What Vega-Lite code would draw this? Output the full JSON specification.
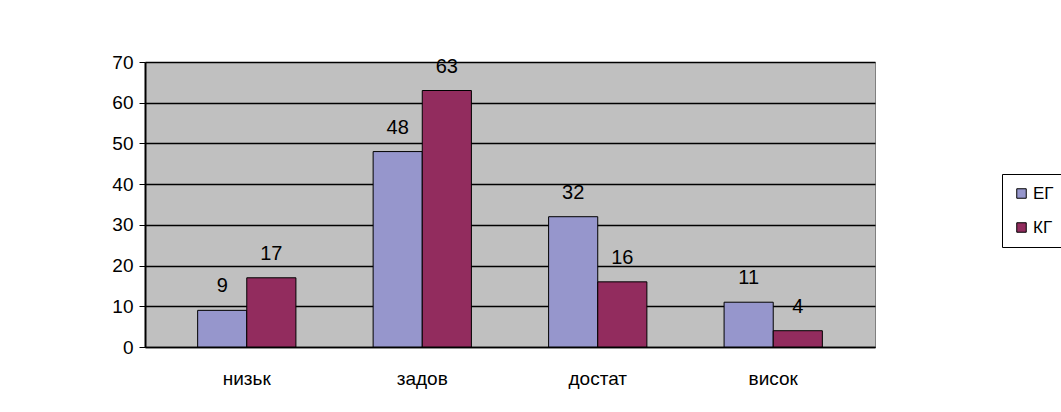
{
  "$schema": "https://vega.github.io/schema/vega-lite/v6.json",
  "autosize": {"type": "none"},
  "width": 730,
  "height": 285,
  "padding": {"left": 145, "top": 62, "right": 186, "bottom": 65},
  "background": "white",
  "data": {"values": [
    {"cat": "низьк", "group": "ЕГ", "value": 9},
    {"cat": "низьк", "group": "КГ", "value": 17},
    {"cat": "задов", "group": "ЕГ", "value": 48},
    {"cat": "задов", "group": "КГ", "value": 63},
    {"cat": "достат", "group": "ЕГ", "value": 32},
    {"cat": "достат", "group": "КГ", "value": 16},
    {"cat": "висок", "group": "ЕГ", "value": 11},
    {"cat": "висок", "group": "КГ", "value": 4}
  ]},
  "encoding": {
    "x": {"field": "cat", "type": "nominal", "sort": ["низьк", "задов", "достат", "висок"],
      "scale": {"paddingInner": 0.44, "paddingOuter": 0.3},
      "axis": {"title": null, "labelAngle": 0, "labelFont": "Liberation Sans", "labelFontSize": 19, "labelColor": "black", "labelPadding": 22, "ticks": false, "domainColor": "black", "domainWidth": 1.5}},
    "xOffset": {"field": "group", "type": "nominal", "sort": ["ЕГ", "КГ"]},
    "y": {"field": "value", "type": "quantitative", "scale": {"domain": [0, 70]},
      "axis": {"title": null, "values": [0,10,20,30,40,50,60,70], "labelFont": "Liberation Sans", "labelFontSize": 19, "labelColor": "black", "labelPadding": 6, "tickColor": "black", "tickSize": 6, "domainColor": "black", "domainWidth": 2, "gridColor": "black", "gridWidth": 1.5}}
  },
  "layer": [
    {
      "mark": {"type": "bar", "stroke": "black", "strokeWidth": 1},
      "encoding": {
        "color": {"field": "group", "type": "nominal", "sort": ["ЕГ", "КГ"],
          "scale": {"domain": ["ЕГ", "КГ"], "range": ["#9696cc", "#922c5e"]},
          "legend": {"title": null, "orient": "none", "legendX": 857, "legendY": 112, "strokeColor": "black", "padding": 11, "symbolType": "square", "symbolSize": 90, "symbolStrokeColor": "black", "symbolStrokeWidth": 1, "labelFont": "Liberation Sans", "labelFontSize": 17, "labelColor": "black", "rowPadding": 16, "labelOffset": 3}}
      }
    },
    {
      "mark": {"type": "text", "dy": -24, "font": "Liberation Sans", "fontSize": 20, "color": "black"},
      "encoding": {"text": {"field": "value", "type": "quantitative"}}
    }
  ],
  "config": {
    "view": {"fill": "#c0c0c0", "stroke": "#808080"}
  }
}
